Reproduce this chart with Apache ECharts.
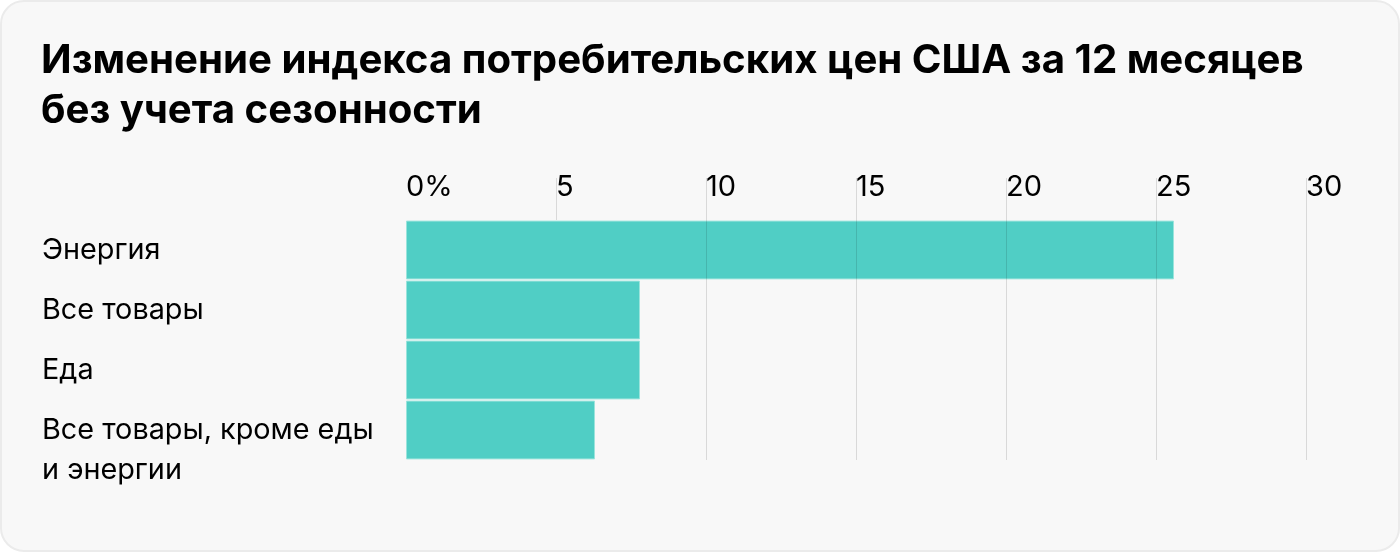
<!DOCTYPE html>
<html>
<head>
<meta charset="utf-8">
<script src="https://cdn.jsdelivr.net/npm/echarts@6/dist/echarts.min.js"></script>
<style>
  html, body { margin: 0; padding: 0; background: #ffffff; }
  #card { width: 1400px; height: 552px; box-sizing: border-box; border: 2px solid #ebebeb; border-radius: 24px; background: #f8f8f8; overflow: hidden; position: relative; }
  #chart { position: absolute; left: -2px; top: -2px; width: 1400px; height: 552px; }
</style>
</head>
<body>
<div id="card"><div id="chart"></div></div>
<script>
const titleText = 'Изменение индекса потребительских цен США за 12 месяцев\nбез учета сезонности';
const categories = ['Энергия', 'Все товары', 'Еда', 'Все товары, кроме еды\nи энергии'];
const values = [25.6, 7.8, 7.8, 6.3];
const xTickLabels = ['0%', '5', '10', '15', '20', '25', '30'];
const xTickValues = [0, 5, 10, 15, 20, 25, 30];

const FONT = 'Inter, "Noto Sans", sans-serif';
const chart = echarts.init(document.getElementById('chart'), null, { renderer: 'canvas' });
chart.setOption({
  backgroundColor: 'transparent',
  animation: false,
  title: {
    text: titleText,
    left: 41,
    top: 36,
    padding: 0,
    textStyle: { fontFamily: FONT, fontSize: 40.2, fontWeight: 'bold', color: '#000', lineHeight: 50 }
  },
  grid: { left: 406, right: 94, top: 220, bottom: 92, containLabel: false },
  xAxis: {
    type: 'value',
    position: 'top',
    min: 0, max: 30, interval: 5,
    z: 5,
    axisLine: { show: false },
    axisTick: { show: true, inside: false, length: 42, customValues: xTickValues.slice(1), lineStyle: { color: 'rgba(0,0,0,0.12)', width: 1 } },
    splitLine: { show: true, showMinLine: false, lineStyle: { color: 'rgba(0,0,0,0.12)', width: 1 } },
    axisLabel: {
      margin: 18,
      align: 'left',
      padding: [0, 0, 0, 0],
      fontFamily: FONT, fontSize: 29, color: '#000',
      formatter: function (v) { const i = xTickValues.indexOf(v); return i >= 0 ? xTickLabels[i] : ''; }
    }
  },
  yAxis: {
    type: 'category',
    inverse: true,
    data: categories,
    axisLine: { show: false },
    axisTick: { show: false },
    splitLine: { show: false },
    axisLabel: {
      interval: 0,
      hideOverlap: false,
      margin: 364,
      align: 'left',
      verticalAlign: 'middle',
      lineHeight: 40,
      fontFamily: FONT, fontSize: 28.8, color: '#000',
      formatter: function (v) { return v.indexOf('\n') >= 0 ? '\n' + v : v; }
    }
  },
  series: [{
    type: 'bar',
    data: values,
    barCategoryGap: '2%',
    itemStyle: { color: '#50cec5', borderColor: '#9be4dc', borderWidth: 1 },
    z: 2
  }]
});
</script>
</body>
</html>
